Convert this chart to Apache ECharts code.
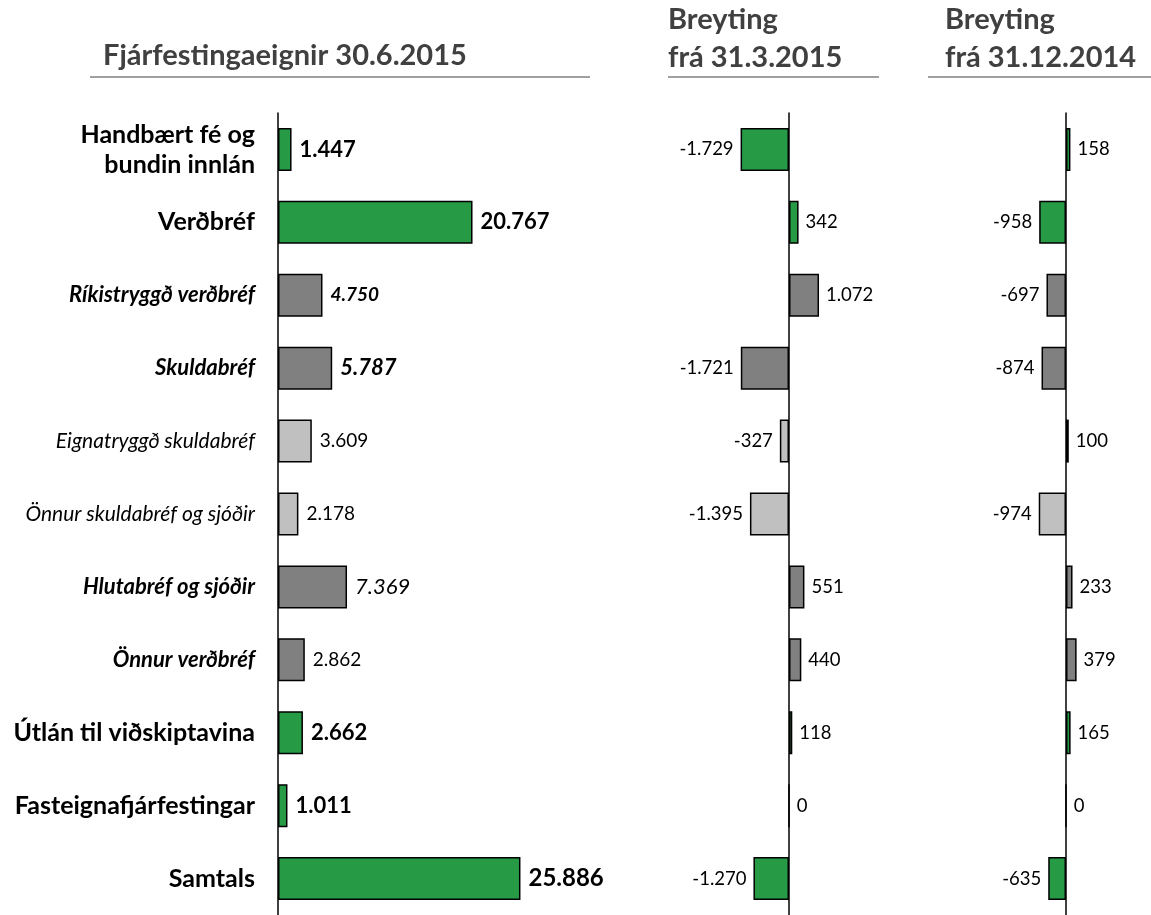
<!DOCTYPE html>
<html>
<head>
<meta charset="utf-8">
<script src="https://cdn.jsdelivr.net/npm/echarts@6/dist/echarts.min.js"></script>
<style>
  html, body { margin: 0; padding: 0; background: #fff; }
  #main { width: 1151px; height: 915px; }
</style>
</head>
<body>
<div id="main"></div>
<script>
var categories = ['Handbært fé og\nbundin innlán', 'Verðbréf', 'Ríkistryggð verðbréf', 'Skuldabréf',
	'Eignatryggð skuldabréf', 'Önnur skuldabréf og sjóðir', 'Hlutabréf og sjóðir', 'Önnur verðbréf',
	'Útlán til viðskiptavina', 'Fasteignafjárfestingar', 'Samtals'];
// level of each row: 1 = main item, 2 = sub item, 3 = sub-sub item
var levels = [1, 1, 2, 2, 3, 3, 2, 2, 1, 1, 1];
var assets = [1447, 20767, 4750, 5787, 3609, 2178, 7369, 2862, 2662, 1011, 25886];
var changeQ = [-1729, 342, 1072, -1721, -327, -1395, 551, 440, 118, 0, -1270];
var changeY = [158, -958, -697, -874, 100, -974, 233, 379, 165, 0, -635];
var titles = ['Fjárfestingaeignir 30.6.2015', 'Breyting\nfrá 31.3.2015', 'Breyting\nfrá 31.12.2014'];

var font = 'Lato';
var levelColor = { 1: '#279a46', 2: '#808080', 3: '#c0c0c0' };
var catStyle = { 1: 'a', 2: 'b', 3: 'c' };

function fmt(v) {
	var s = Math.abs(v).toString().replace(/\B(?=(\d{3})+(?!\d))/g, '.');
	return (v < 0 ? '-' : '') + s;
}

// label style of main values
var valueLabel = [
	{ fontWeight: 'bold', fontSize: 22 },
	{ fontWeight: 'bold', fontSize: 22 },
	{ fontWeight: 'bold', fontStyle: 'italic', fontSize: 19 },
	{ fontWeight: 'bold', fontStyle: 'italic', fontSize: 22 },
	{ fontSize: 19 },
	{ fontSize: 19 },
	{ fontStyle: 'italic', fontSize: 22 },
	{ fontSize: 19 },
	{ fontWeight: 'bold', fontSize: 22 },
	{ fontWeight: 'bold', fontSize: 22 },
	{ fontWeight: 'bold', fontSize: 24 }
];

var mainData = assets.map(function (v, i) {
	var lbl = Object.assign({ show: true, position: 'right', distance: 8, color: '#000', fontFamily: font,
		formatter: function (p) { return fmt(p.value); } }, valueLabel[i]);
	return { value: v, itemStyle: { color: levelColor[levels[i]] }, label: lbl };
});

function changeData(arr) {
	return arr.map(function (v, i) {
		return {
			value: v,
			itemStyle: { color: levelColor[levels[i]] },
			label: { show: true, position: v < 0 ? 'left' : 'right', distance: 7, color: '#000',
				fontFamily: font, fontSize: 18.5, formatter: function (p) { return fmt(p.value); } }
		};
	});
}

var grids = [
	{ left: 278, width: 281, top: 113, bottom: -6 },
	{ left: 705, width: 140, top: 113, bottom: -6 },
	{ left: 982, width: 112, top: 113, bottom: -6 }
];

var yAxes = grids.map(function (g, i) {
	return {
		type: 'category', gridIndex: i, data: categories, inverse: true,
		axisTick: { show: false },
		axisLine: { onZero: true, lineStyle: { color: '#000', width: 1.5 } },
		axisLabel: i === 0 ? {
			margin: 23, align: 'right', fontFamily: font, color: '#000',
			formatter: function (val, idx) {
				var k = catStyle[levels[idx]];
				return val.split('\n').map(function (s) { return '{' + k + '|' + s + '}'; }).join('\n');
			},
			rich: {
				a: { fontFamily: font, fontWeight: 'bold', fontSize: 25, lineHeight: 30, color: '#000', align: 'right' },
				b: { fontFamily: font, fontWeight: 'bold', fontStyle: 'italic', fontSize: 22, color: '#000', align: 'right' },
				c: { fontFamily: font, fontStyle: 'italic', fontSize: 21, color: '#000', align: 'right' }
			}
		} : { show: false }
	};
});

var xAxes = [
	{ type: 'value', gridIndex: 0, min: 0, max: 30000, show: false },
	{ type: 'value', gridIndex: 1, min: -3000, max: 2000, show: false },
	{ type: 'value', gridIndex: 2, min: -3000, max: 1000, show: false }
];

var barStyle = { borderColor: '#000', borderWidth: 1.5 };

var option = {
	backgroundColor: '#fff',
	animation: false,
	grid: grids,
	xAxis: xAxes,
	yAxis: yAxes,
	series: [
		{ type: 'bar', xAxisIndex: 0, yAxisIndex: 0, barWidth: 43, itemStyle: barStyle, data: mainData },
		{ type: 'bar', xAxisIndex: 1, yAxisIndex: 1, barWidth: 43, itemStyle: barStyle, data: changeData(changeQ) },
		{ type: 'bar', xAxisIndex: 2, yAxisIndex: 2, barWidth: 43, itemStyle: barStyle, data: changeData(changeY) }
	],
	graphic: [
		{ type: 'text', left: 103, top: 41, style: { text: titles[0], fontFamily: font, fontWeight: 'bold', fontSize: 29, fill: '#404040' } },
		{ type: 'text', left: 668, top: 1, style: { text: titles[1], fontFamily: font, fontWeight: 'bold', fontSize: 29, lineHeight: 38, fill: '#404040' } },
		{ type: 'text', left: 945, top: 1, style: { text: titles[2], fontFamily: font, fontWeight: 'bold', fontSize: 29, lineHeight: 38, fill: '#404040' } },
		{ type: 'line', shape: { x1: 90, y1: 77, x2: 590, y2: 77 }, style: { stroke: '#404040', lineWidth: 1 } },
		{ type: 'line', shape: { x1: 668, y1: 77, x2: 879, y2: 77 }, style: { stroke: '#404040', lineWidth: 1 } },
		{ type: 'line', shape: { x1: 928, y1: 77, x2: 1151, y2: 77 }, style: { stroke: '#404040', lineWidth: 1 } }
	]
};

var myChart = echarts.init(document.getElementById('main'));
myChart.setOption(option);
window.onresize = myChart.resize;
</script>
</body>
</html>
